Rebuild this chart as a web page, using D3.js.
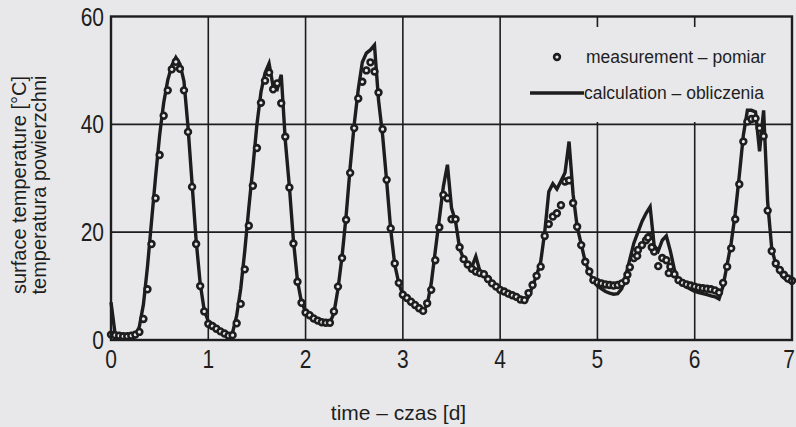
<!DOCTYPE html>
<html>
<head>
<meta charset="utf-8">
<script src="https://cdn.jsdelivr.net/npm/d3@7"></script>
<style>
  html, body { margin: 0; padding: 0; background: #e8e8ea; }
  svg { display: block; }
  text { font-family: "Liberation Sans", Arial, Helvetica, sans-serif; fill: #1e1e1e; }
</style>
</head>
<body>
<svg id="chart" width="796" height="427"></svg>
<script>
// Axis ticks
const dayTicks = [0, 1, 2, 3, 4, 5, 6, 7];
const tempTicks = [0, 20, 40, 60];

// Hourly surface temperature, hour 0 .. hour 168 (7 days)
const measured = [
  1.0, 0.9, 0.8, 0.7, 0.7, 0.8, 1.0,
  1.5, 3.9, 9.4, 17.8, 26.3, 34.3,
  41.6, 46.3, 50.2, 51.6, 50.3, 46.3,
  38.6, 28.4, 17.8, 10.0, 5.3,
  3.0, 2.6, 2.1, 1.6, 1.2, 0.8,
  0.9, 3.1, 6.7, 13.1, 21.2, 28.6,
  35.6, 44.0, 48.1, 49.6, 46.5, 47.6,
  43.9, 37.7, 28.3, 17.9, 10.8, 6.9,
  5.1, 4.6, 4.0, 3.6, 3.3, 3.2,
  3.2, 5.3, 9.9, 15.2, 22.3, 31.0,
  39.3, 44.8, 47.9, 50.0, 51.5, 49.8,
  45.9, 39.1, 29.7, 20.7, 14.2, 10.6,
  8.4, 7.8, 7.1, 6.5, 5.9, 5.4,
  6.8, 9.3, 14.8, 20.9, 26.9, 26.3,
  22.4, 22.4, 17.2, 15.0, 14.0, 13.2,
  12.7, 12.4, 12.2, 11.3, 10.5, 9.9,
  9.3, 9.0, 8.6, 8.3, 8.0, 7.5,
  7.4, 8.7, 10.2, 11.9, 13.6, 19.3,
  21.5, 22.9, 23.5, 25.0, 29.4, 29.6,
  25.4, 21.0, 17.6, 14.5, 12.7, 11.1,
  10.7, 10.5, 10.3, 10.2, 10.1, 10.2,
  10.5, 11.0, 13.5, 15.2, 16.7, 17.6,
  18.5, 19.3, 16.4, 13.7, 15.2, 14.8,
  13.6, 12.2, 11.1, 10.6, 10.3, 10.1,
  9.9, 9.7, 9.6, 9.5, 9.4, 9.2,
  8.8, 10.6, 13.6, 17.0, 22.4, 28.9,
  36.8, 40.5, 41.0, 41.1, 39.3, 37.8,
  24.0, 16.5, 14.2, 13.0, 12.1, 11.4,
  11.0
];

// Additional readings between the hourly samples
const extraHours = [127.4, 129.8, 132.5, 133.4, 137.6];
const extraMeasured = [12.1, 15.6, 19.0, 17.2, 12.4];

// Hourly computed surface temperature, hour 0 .. hour 168
const calculated = [
  7.0, 1.2, 0.9, 0.7, 0.5, 0.3, 0.6,
  2.5, 6.6, 13.6, 22.0, 30.3, 38.0,
  44.0, 48.2, 50.9, 52.4, 51.2, 48.0,
  39.5, 29.0, 18.5, 10.5, 5.5,
  3.5, 3.0, 2.4, 1.8, 1.3, 0.9,
  1.4, 4.5, 9.5, 16.5, 24.5, 32.0,
  40.0, 46.0, 49.5, 51.3, 47.0, 46.5,
  49.2, 37.0, 28.5, 18.5, 11.0, 7.0,
  5.3, 4.5, 4.0, 3.6, 3.3, 3.0,
  3.2, 5.0, 9.5, 15.5, 23.0, 32.0,
  40.0, 46.5, 51.5, 53.2, 53.8, 54.7,
  44.5, 38.0, 29.5, 20.5, 14.0, 10.5,
  8.4, 7.8, 7.2, 6.6, 6.0, 5.4,
  6.5, 10.5, 16.5, 22.5, 28.5, 32.5,
  24.5, 22.0, 17.0, 15.0, 14.0, 13.5,
  15.5, 12.8, 12.0, 11.0, 10.3, 9.8,
  9.3, 9.0, 8.6, 8.2, 7.8, 7.3,
  7.0, 8.0, 10.0, 12.0, 14.5, 20.0,
  27.5, 29.0, 28.0, 29.5, 31.0, 36.8,
  27.0, 21.0, 17.8, 14.5, 12.5, 11.0,
  10.0, 9.5, 9.0, 8.7, 8.5, 8.6,
  9.5, 12.0, 15.0, 18.0, 20.0, 22.0,
  23.5, 24.7, 17.5, 16.5, 18.5, 19.3,
  16.5, 13.0, 11.0, 10.3, 9.8, 9.4,
  9.0, 8.8, 8.6, 8.4, 8.2, 8.0,
  7.6, 10.0, 14.0, 18.0, 23.5, 30.5,
  38.0, 42.6, 42.6, 42.3, 35.0, 42.6,
  25.5, 17.0, 14.0, 12.5, 11.5, 11.0,
  10.5
];

const legendLabels = ["measurement \u2013 pomiar", "calculation \u2013 obliczenia"];
const xTitle = "time \u2013 czas [d]";
const yTitles = ["surface temperature [\u00B0C]", "temperatura powierzchni"];

const INK = "#1d1d1d";
const BG = "#e8e8ea";
const MARK_R = 2.9, MARK_W = 2.6;

const svg = d3.select("#chart");
const plot = { left: 111, right: 792, top: 16.5, bottom: 340 };

const x = d3.scaleLinear().domain([0, 7]).range([plot.left, plot.right]);
const y = d3.scaleLinear().domain([0, 60]).range([plot.bottom, plot.top]);
const hourToDay = h => h / 24;

// grid
const grid = svg.append("g");
grid.selectAll("line.v").data(dayTicks.slice(1, -1)).join("line")
  .attr("x1", d => x(d)).attr("x2", d => x(d))
  .attr("y1", plot.top).attr("y2", plot.bottom)
  .attr("stroke", INK).attr("stroke-width", 1.6);
grid.selectAll("line.h").data(tempTicks.slice(1, -1)).join("line")
  .attr("x1", plot.left).attr("x2", plot.right)
  .attr("y1", d => y(d)).attr("y2", d => y(d))
  .attr("stroke", INK).attr("stroke-width", 1.6);

// legend background masks the grid behind it
svg.append("rect")
  .attr("x", 510).attr("y", 27).attr("width", 280).attr("height", 95)
  .attr("fill", BG);

// calculated curve
const line = d3.line()
  .x((d, i) => x(hourToDay(i)))
  .y(d => y(d));
svg.append("path")
  .datum(calculated)
  .attr("d", line)
  .attr("fill", "none")
  .attr("stroke", INK)
  .attr("stroke-width", 3.4)
  .attr("stroke-linejoin", "miter")
  .attr("stroke-miterlimit", 6);

// measured points
const pts = measured.map((v, i) => ({ h: i, v }))
  .concat(extraHours.map((h, i) => ({ h, v: extraMeasured[i] })));
svg.append("g").selectAll("circle").data(pts).join("circle")
  .attr("cx", d => x(hourToDay(d.h)))
  .attr("cy", d => y(d.v))
  .attr("r", MARK_R)
  .attr("fill", BG)
  .attr("stroke", INK)
  .attr("stroke-width", MARK_W);

// frame
svg.append("rect")
  .attr("x", plot.left).attr("y", plot.top)
  .attr("width", plot.right - plot.left).attr("height", plot.bottom - plot.top)
  .attr("fill", "none").attr("stroke", INK).attr("stroke-width", 2.4);

// tick labels: tall, narrow numerals
const SQUEEZE = 0.84;
svg.append("g").selectAll("text").data(dayTicks).join("text")
  .attr("transform", d => `translate(${Math.min(x(d), 789)},368) scale(${SQUEEZE},1)`)
  .attr("text-anchor", "middle")
  .attr("font-size", 25)
  .text(d => d);
svg.append("g").selectAll("text").data(tempTicks).join("text")
  .attr("transform", d => `translate(104,${y(d) + 9}) scale(${SQUEEZE},1)`)
  .attr("text-anchor", "end")
  .attr("font-size", 25)
  .text(d => d);

// axis titles
svg.append("text")
  .attr("x", 398.5).attr("y", 420)
  .attr("text-anchor", "middle")
  .attr("font-size", 21)
  .text(xTitle);
yTitles.forEach((t, i) => {
  svg.append("text")
    .attr("transform", `translate(${26 + i * 20},185) rotate(-90)`)
    .attr("text-anchor", "middle")
    .attr("font-size", 20)
    .text(t);
});

// legend
const lg = svg.append("g");
lg.append("circle").attr("cx", 557).attr("cy", 57).attr("r", MARK_R)
  .attr("fill", BG).attr("stroke", INK).attr("stroke-width", MARK_W);
lg.append("text").attr("x", 586).attr("y", 63).attr("font-size", 17.5).text(legendLabels[0]);
lg.append("line").attr("x1", 530).attr("x2", 584).attr("y1", 93).attr("y2", 93)
  .attr("stroke", INK).attr("stroke-width", 3.5);
lg.append("text").attr("x", 584).attr("y", 99).attr("font-size", 17.5).text(legendLabels[1]);
</script>
</body>
</html>
